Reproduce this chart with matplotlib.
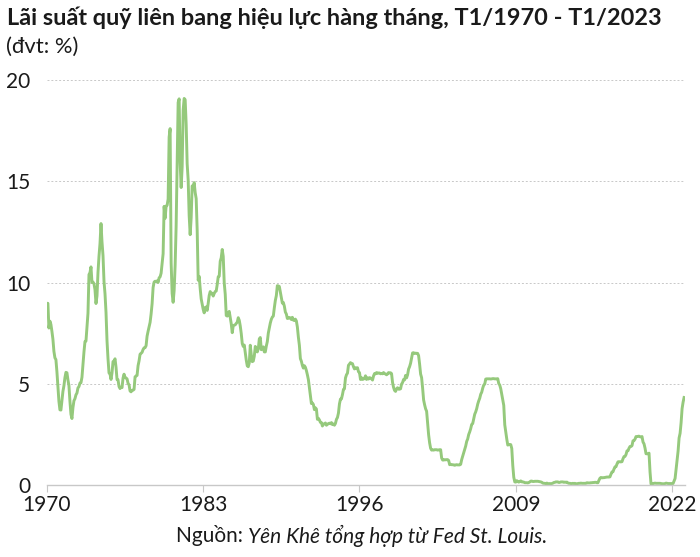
import numpy as np
import matplotlib.pyplot as plt

# Monthly effective federal funds rate, Jan 1970 - Jan 2023 (%)
rate_1970s = [
    8.98, 8.98, 7.76, 8.10, 7.94, 7.60, 7.21, 6.61, 6.29, 6.20, 5.60, 4.90,
    4.14, 3.72, 3.71, 4.16, 4.63, 4.91, 5.31, 5.57, 5.55, 5.20, 4.91, 4.14,
    3.50, 3.29, 3.83, 4.17, 4.27, 4.46, 4.55, 4.80, 4.87, 5.04, 5.06, 5.33,
    5.94, 6.58, 7.09, 7.12, 7.84, 8.49, 10.40, 10.50, 10.78, 10.01, 10.03, 9.95,
    9.65, 8.97, 9.35, 10.51, 11.31, 11.93, 12.92, 12.01, 11.34, 10.06, 9.45, 8.53,
    7.13, 6.24, 5.54, 5.49, 5.22, 5.55, 6.10, 6.14, 6.24, 5.82, 5.22, 5.20,
    4.87, 4.77, 4.84, 4.82, 5.29, 5.48, 5.31, 5.29, 5.25, 5.03, 4.95, 4.65,
    4.61, 4.68, 4.69, 4.73, 5.35, 5.39, 5.42, 5.90, 6.14, 6.47, 6.51, 6.56,
    6.70, 6.78, 6.79, 6.89, 7.36, 7.60, 7.81, 8.04, 8.45, 8.96, 9.76, 10.03,
    10.07, 10.06, 10.09, 10.01, 10.24, 10.29, 10.47, 10.94, 11.43, 13.77, 13.18, 13.78,
]
rate_1980s = [
    13.82, 14.13, 17.19, 17.61, 10.98, 9.47, 9.03, 9.61, 10.87, 12.81, 15.85, 18.90,
    19.08, 15.93, 14.70, 15.72, 18.52, 19.10, 19.04, 17.82, 15.87, 15.08, 13.31, 12.37,
    13.22, 14.78, 14.68, 14.94, 14.45, 14.15, 12.59, 10.12, 10.31, 9.71, 9.20, 8.95,
    8.68, 8.51, 8.77, 8.80, 8.63, 8.98, 9.37, 9.56, 9.45, 9.48, 9.34, 9.47,
    9.56, 9.59, 9.91, 10.29, 10.32, 11.06, 11.23, 11.64, 11.30, 9.99, 9.43, 8.38,
    8.35, 8.50, 8.58, 8.27, 7.97, 7.53, 7.88, 7.90, 7.92, 7.99, 8.05, 8.27,
    8.14, 7.86, 7.48, 6.99, 6.85, 6.92, 6.56, 6.17, 5.89, 5.85, 6.04, 6.91,
    6.43, 6.10, 6.13, 6.37, 6.85, 6.73, 6.58, 6.73, 7.22, 7.29, 6.69, 6.77,
    6.83, 6.58, 6.58, 6.87, 7.09, 7.51, 7.75, 8.01, 8.19, 8.30, 8.35, 8.76,
    9.12, 9.36, 9.85, 9.84, 9.81, 9.53, 9.24, 8.99, 9.02, 8.84, 8.55, 8.45,
]
rate_1990s = [
    8.23, 8.24, 8.28, 8.26, 8.18, 8.29, 8.15, 8.13, 8.20, 8.11, 7.81, 7.31,
    6.91, 6.25, 6.12, 5.91, 5.78, 5.90, 5.82, 5.66, 5.45, 5.21, 4.81, 4.43,
    4.03, 4.06, 3.98, 3.73, 3.82, 3.76, 3.25, 3.30, 3.22, 3.10, 3.09, 2.92,
    3.02, 3.03, 3.07, 2.96, 3.00, 3.04, 3.06, 3.03, 3.09, 2.99, 3.02, 2.96,
    3.05, 3.25, 3.34, 3.56, 4.01, 4.25, 4.26, 4.47, 4.73, 4.76, 5.29, 5.45,
    5.53, 5.92, 5.98, 6.05, 6.01, 6.00, 5.85, 5.74, 5.80, 5.76, 5.80, 5.60,
    5.56, 5.22, 5.31, 5.22, 5.24, 5.27, 5.40, 5.22, 5.30, 5.24, 5.31, 5.29,
    5.25, 5.19, 5.39, 5.51, 5.50, 5.56, 5.52, 5.54, 5.54, 5.50, 5.52, 5.50,
    5.56, 5.51, 5.49, 5.45, 5.49, 5.56, 5.54, 5.55, 5.51, 5.07, 4.83, 4.68,
    4.63, 4.76, 4.81, 4.74, 4.74, 4.76, 4.99, 5.07, 5.22, 5.20, 5.42, 5.30,
]
rate_2000s = [
    5.45, 5.73, 5.85, 6.02, 6.27, 6.53, 6.54, 6.50, 6.52, 6.51, 6.51, 6.40,
    5.98, 5.49, 5.31, 4.80, 4.21, 3.97, 3.77, 3.65, 3.07, 2.49, 2.09, 1.82,
    1.73, 1.74, 1.73, 1.75, 1.75, 1.75, 1.73, 1.74, 1.75, 1.75, 1.34, 1.24,
    1.24, 1.26, 1.25, 1.26, 1.26, 1.22, 1.01, 1.03, 1.01, 1.01, 1.00, 0.98,
    1.00, 1.01, 1.00, 1.00, 1.00, 1.03, 1.26, 1.43, 1.61, 1.76, 1.93, 2.16,
    2.28, 2.50, 2.63, 2.79, 3.00, 3.04, 3.26, 3.50, 3.62, 3.78, 4.00, 4.16,
    4.29, 4.49, 4.59, 4.79, 4.94, 4.99, 5.24, 5.25, 5.25, 5.25, 5.25, 5.24,
    5.25, 5.26, 5.26, 5.25, 5.25, 5.25, 5.26, 5.02, 4.94, 4.76, 4.49, 4.24,
    3.94, 2.98, 2.61, 2.28, 1.98, 2.00, 2.01, 2.00, 1.81, 0.97, 0.39, 0.16,
    0.15, 0.22, 0.18, 0.15, 0.18, 0.21, 0.16, 0.16, 0.15, 0.12, 0.12, 0.12,
]
rate_2010s = [
    0.11, 0.13, 0.16, 0.20, 0.20, 0.18, 0.18, 0.19, 0.19, 0.19, 0.19, 0.18,
    0.17, 0.16, 0.14, 0.10, 0.09, 0.09, 0.07, 0.10, 0.08, 0.07, 0.08, 0.07,
    0.08, 0.10, 0.13, 0.14, 0.16, 0.16, 0.16, 0.13, 0.14, 0.16, 0.16, 0.16,
    0.14, 0.15, 0.14, 0.15, 0.11, 0.09, 0.09, 0.08, 0.08, 0.09, 0.08, 0.09,
    0.07, 0.07, 0.08, 0.09, 0.09, 0.10, 0.09, 0.09, 0.09, 0.09, 0.09, 0.12,
    0.11, 0.11, 0.11, 0.12, 0.12, 0.13, 0.13, 0.14, 0.14, 0.12, 0.12, 0.24,
    0.34, 0.38, 0.36, 0.37, 0.37, 0.38, 0.39, 0.40, 0.40, 0.40, 0.41, 0.54,
    0.65, 0.66, 0.79, 0.90, 0.91, 1.04, 1.15, 1.16, 1.15, 1.15, 1.16, 1.30,
    1.41, 1.42, 1.51, 1.69, 1.70, 1.82, 1.91, 1.91, 1.95, 2.19, 2.20, 2.27,
    2.40, 2.40, 2.41, 2.42, 2.39, 2.38, 2.40, 2.13, 2.04, 1.83, 1.55, 1.55,
]
rate_2020s = [
    1.55, 1.58, 0.65, 0.05, 0.05, 0.08, 0.09, 0.10, 0.09, 0.09, 0.09, 0.09,
    0.09, 0.08, 0.07, 0.07, 0.06, 0.08, 0.10, 0.09, 0.08, 0.08, 0.08, 0.08,
    0.08, 0.08, 0.20, 0.33, 0.77, 1.21, 1.68, 2.33, 2.56, 3.08, 3.78, 4.10,
    4.33,
]
year_ticks = [1970, 1983, 1996, 2009, 2022]
y_ticks = [0, 5, 10, 15, 20]

title = 'Lãi suất quỹ liên bang hiệu lực hàng tháng, T1/1970 - T1/2023'
subtitle = '(đvt: %)'

LINE_COLOR = '#95c97c'
TEXT_COLOR = '#1a1a1a'
GRID_COLOR = '#c8c8c8'


def main():
    rates = np.array(rate_1970s + rate_1980s + rate_1990s + rate_2000s + rate_2010s + rate_2020s)
    months = 1970 + np.arange(len(rates)) / 12.0

    plt.rcParams['font.family'] = ['Lato', 'DejaVu Sans']
    fig = plt.figure(figsize=(7.0, 5.57), dpi=100)
    ax = fig.add_axes([0.067, 0.129, 0.912, 0.727])

    ax.plot(months, rates, color=LINE_COLOR, linewidth=2.1, solid_joinstyle='round')

    ax.set_xlim(1970, 2023.1)
    ax.set_ylim(0, 20)
    ax.set_xticks(year_ticks)
    ax.set_yticks(y_ticks)
    ax.tick_params(axis='x', length=5, width=0.8, color='#c8c8c8', labelsize=15,
                   labelcolor=TEXT_COLOR, pad=2)
    ax.tick_params(axis='y', length=0, labelsize=15, labelcolor=TEXT_COLOR, pad=12)

    ax.yaxis.grid(True, linestyle=(0, (2, 2)), color=GRID_COLOR, linewidth=0.7)
    ax.set_axisbelow(True)
    for side in ['top', 'right', 'left']:
        ax.spines[side].set_visible(False)
    ax.spines['bottom'].set_color('#c8c8c8')
    ax.spines['bottom'].set_linewidth(1.0)

    fig.text(0.01, 0.988, title, fontsize=16.9, fontweight='bold', color=TEXT_COLOR,
             va='top', ha='left')
    fig.text(0.008, 0.934, subtitle, fontsize=15.8, color=TEXT_COLOR, va='top', ha='left')

    # source line: plain label + italic text, centred as one line
    src_y = 0.038
    t1 = fig.text(0.5, src_y, 'Nguồn: ', fontsize=15, color=TEXT_COLOR, ha='left', va='center')
    t2 = fig.text(0.5, src_y, 'Yên Khê tổng hợp từ Fed St. Louis.', fontsize=15,
                  style='italic', color=TEXT_COLOR, ha='left', va='center')
    fig.canvas.draw()
    r = fig.canvas.get_renderer()
    w1 = t1.get_window_extent(r).width / fig.bbox.width
    w2 = t2.get_window_extent(r).width / fig.bbox.width
    start = 362 / 700 - (w1 + w2) / 2
    t1.set_x(start)
    t2.set_x(start + w1)

    fig.savefig('out.png', dpi=100, facecolor='white')


if __name__ == '__main__':
    main()
